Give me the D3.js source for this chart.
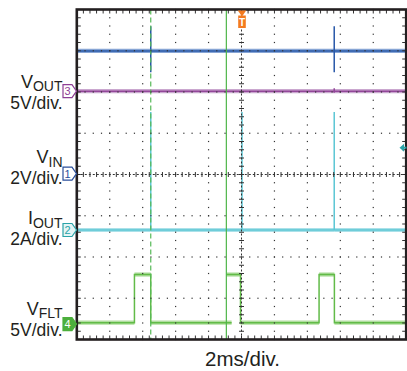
<!DOCTYPE html>
<html>
<head>
<meta charset="utf-8">
<script src="https://cdn.jsdelivr.net/npm/d3@7/dist/d3.min.js"></script>
<style>
  html, body { margin: 0; padding: 0; background: #fff; }
  svg { display: block; }
  text { font-family: "Liberation Sans", Arial, sans-serif; fill: #231f20; }
</style>
</head>
<body>
<svg id="scope" width="407" height="371"></svg>
<script>
// Scope setup: 2 ms/div, 10 horizontal div, 8 vertical div
var timeDomain = [0, 20];
var divDomain = [-4, 4];
var timeLabel = "2ms/div.";

// Channels, in label order (top to bottom)
var chIds = ["3", "1", "2", "4"];
var chMain = ["V", "V", "I", "V"];
var chSub = ["OUT", "IN", "OUT", "FLT"];
var chScale = ["5V/div.", "2V/div.", "2A/div.", "5V/div."];
var chPerDiv = [5, 2, 2, 5];
var chOffsetDiv = [2.02, 0.02, -1.345, -3.625];
var chColor = ["#8e3f96", "#2a4f9c", "#2aa3a8", "#4caf3c"];

// Traces: [time ms, value] points, null = gap
var voutTrace = [[0, 0], [15.63, 0], [15.63, 0.35], [15.63, -0.2], [15.63, 0], [20, 0]];
var vinTrace = [[0, 5.95], [4.49, 5.95], [4.49, 7.15], [4.49, 4.92], [4.49, 5.95],
  [15.63, 5.95], [15.63, 7.15], [15.63, 4.92], [15.63, 5.95], [20, 5.95]];
var ioutTrace = [[0, 0], [4.49, 0], [4.49, 5.72], [4.49, 0], [10.03, 0], [10.03, 5.72], [10.03, 0],
  [15.63, 0], [15.63, 5.72], [15.63, 0], [20, 0]];
var vfltTrace = [[0, 0.17], [3.5, 0.17], [3.5, 6.0], [4.49, 6.0], [4.49, 0.17], [9.4, 0.17], null,
  [9.08, 6.0], [9.94, 6.0], [9.94, 0.17], [14.71, 0.17], [14.71, 6.0], [15.64, 6.0], [15.64, 0.17], [20, 0.17]];

// Cursors and trigger
var cursorTimes = [4.49, 9.08];
var triggerTime = 10.03;
var trigLevelDiv = 0.65;

var svg = d3.select("#scope");

var x = d3.scaleLinear().domain(timeDomain).range([76.8, 406.2]);
var y = d3.scaleLinear().domain(divDomain).range([339.5, 9.5]);

function chY(i, v) { return y(chOffsetDiv[i] + v / chPerDiv[i]); }

// ---- traces ----
var traces = [
  { data: vinTrace, ch: 1, core: "#2858a8", halo: "#5f88c8" },
  { data: voutTrace, ch: 0, core: "#93479a", halo: "#b98abf" },
  { data: ioutTrace, ch: 2, core: "#5cc6d4", halo: "#8fd8e2" },
  { data: vfltTrace, ch: 3, core: "#62bb48", halo: "#97d480" }
];

var traceG = svg.append("g").attr("class", "traces");

traces.forEach(function(tr) {
  // fuzzy band on flat runs
  var flats = [];
  for (var k = 0; k < tr.data.length - 1; k++) {
    var a = tr.data[k], b = tr.data[k + 1];
    if (a && b && a[1] === b[1] && a[0] !== b[0]) flats.push([a, b]);
  }
  traceG.append("g").selectAll("line")
    .data(flats)
    .enter().append("line")
      .attr("x1", function(d) { return x(d[0][0]); })
      .attr("x2", function(d) { return x(d[1][0]); })
      .attr("y1", function(d) { return chY(tr.ch, d[0][1]); })
      .attr("y2", function(d) { return chY(tr.ch, d[1][1]); })
      .attr("stroke", tr.halo)
      .attr("stroke-width", 4.2)
      .attr("opacity", 0.75);

  var line = d3.line()
      .defined(function(d) { return d !== null; })
      .x(function(d) { return x(d[0]); })
      .y(function(d) { return chY(tr.ch, d[1]); });

  traceG.append("path")
      .datum(tr.data)
      .attr("d", line)
      .attr("fill", "none")
      .attr("stroke", tr.core)
      .attr("stroke-width", 1.5);
});

// ---- cursors ----
svg.append("g").selectAll("line")
  .data(cursorTimes)
  .enter().append("line")
    .attr("x1", function(d) { return x(d); })
    .attr("x2", function(d) { return x(d); })
    .attr("y1", y(4))
    .attr("y2", y(-4))
    .attr("stroke", function(d, i) { return i === 0 ? "#56b957" : "#4eb548"; })
    .attr("stroke-width", 1.2)
    .attr("stroke-dasharray", function(d, i) { return i === 0 ? "5,3" : null; });

// ---- graticule ----
var grid = svg.append("g").attr("class", "graticule");
var gridColor = "#333";

// dotted vertical grid lines
var vDots = [];
d3.range(2, 20, 2).forEach(function(t) {
  if (t === 10) return;
  d3.range(-4, 4.001, 0.2).forEach(function(dv) { vDots.push([x(t), y(dv)]); });
});
// dotted horizontal grid lines
d3.range(-3, 4, 1).forEach(function(dv) {
  if (dv === 0) return;
  d3.range(0, 20.001, 0.5).forEach(function(t) { vDots.push([x(t), y(dv)]); });
});
grid.selectAll("rect.dot")
  .data(vDots)
  .enter().append("rect")
    .attr("class", "dot")
    .attr("x", function(d) { return d[0] - 0.6; })
    .attr("y", function(d) { return d[1] - 0.6; })
    .attr("width", 1.2)
    .attr("height", 1.2)
    .attr("fill", gridColor);

// center cross lines
grid.append("line")
    .attr("x1", x(0)).attr("x2", x(20))
    .attr("y1", y(0)).attr("y2", y(0))
    .attr("stroke", gridColor).attr("stroke-width", 1)
    .attr("stroke-dasharray", "2,2");
grid.append("line")
    .attr("x1", x(10)).attr("x2", x(10))
    .attr("y1", y(4)).attr("y2", y(-4))
    .attr("stroke", gridColor).attr("stroke-width", 1)
    .attr("stroke-dasharray", "2,2");

var hTicks = d3.range(0, 20.001, 0.4);
var vTicks = d3.range(-4, 4.001, 0.2);

grid.append("g").selectAll("line")
  .data(hTicks)
  .enter().append("line")
    .attr("x1", function(d) { return x(d); })
    .attr("x2", function(d) { return x(d); })
    .attr("y1", y(0) - 2.5).attr("y2", y(0) + 2.5)
    .attr("stroke", gridColor).attr("stroke-width", 1);
grid.append("g").selectAll("line")
  .data(vTicks)
  .enter().append("line")
    .attr("y1", function(d) { return y(d); })
    .attr("y2", function(d) { return y(d); })
    .attr("x1", x(10) - 2.5).attr("x2", x(10) + 2.5)
    .attr("stroke", gridColor).attr("stroke-width", 1);

// edge minor ticks
[[y(4), 1], [y(-4), -1]].forEach(function(e) {
  grid.append("g").selectAll("line")
    .data(hTicks)
    .enter().append("line")
      .attr("x1", function(d) { return x(d); })
      .attr("x2", function(d) { return x(d); })
      .attr("y1", e[0]).attr("y2", e[0] + e[1] * 4)
      .attr("stroke", gridColor).attr("stroke-width", 1);
});
[[x(0), 1], [x(20), -1]].forEach(function(e) {
  grid.append("g").selectAll("line")
    .data(vTicks)
    .enter().append("line")
      .attr("y1", function(d) { return y(d); })
      .attr("y2", function(d) { return y(d); })
      .attr("x1", e[0]).attr("x2", e[0] + e[1] * 4)
      .attr("stroke", gridColor).attr("stroke-width", 1);
});

// frame
svg.append("rect")
    .attr("x", x(0)).attr("y", y(4))
    .attr("width", x(20) - x(0)).attr("height", y(-4) - y(4))
    .attr("fill", "none")
    .attr("stroke", "#231f20")
    .attr("stroke-width", 2.6);

// ---- trigger marker ----
var tx = x(triggerTime);
svg.append("path")
    .attr("d", "M" + (tx - 4.2) + ",10.5 L" + (tx + 4.2) + ",10.5 L" + tx + ",16.5 Z")
    .attr("fill", "#f47b20");
svg.append("rect")
    .attr("x", tx - 3.8).attr("y", 15.5)
    .attr("width", 7.6).attr("height", 12.5)
    .attr("fill", "#f47b20");
svg.append("text")
    .attr("x", tx).attr("y", 25.8)
    .attr("text-anchor", "middle")
    .attr("font-size", 10)
    .attr("font-weight", "bold")
    .style("fill", "#fff")
    .text("T");

// trigger level arrow on right edge
var ty = y(trigLevelDiv);
svg.append("path")
    .attr("d", "M399.5," + ty + " L404," + (ty - 4) + " L404," + (ty + 4) + " Z")
    .attr("fill", "#2aa3a8");
svg.append("rect")
    .attr("x", 403.5).attr("y", ty - 1)
    .attr("width", 3).attr("height", 2)
    .attr("fill", "#2aa3a8");

// ---- channel markers and labels ----
var labelBase = [87.5, 162.5, 223.5, 314.5];
var subDy = [3.5, 4, 4, 3];

chIds.forEach(function(id, i) {
  var cy = y(chOffsetDiv[i]);
  var filled = id === "4";
  var fillCol = filled ? "#4caf3c" : (id === "2" ? "#e4f5f5" : "#fff");
  svg.append("path")
      .attr("d", "M63," + (cy - 6.5) + " H72 L76.5," + cy + " L72," + (cy + 6.5) + " H63 Z")
      .attr("fill", fillCol)
      .attr("stroke", chColor[i])
      .attr("stroke-width", 1.2);
  svg.append("text")
      .attr("x", 67.6).attr("y", cy + 4)
      .attr("text-anchor", "middle")
      .attr("font-size", 11)
      .style("fill", filled ? "#fff" : chColor[i])
      .text(id);

  var t = svg.append("text")
      .attr("x", 62.5).attr("y", labelBase[i])
      .attr("text-anchor", "end");
  t.append("tspan").attr("font-size", 18).text(chMain[i]);
  t.append("tspan").attr("font-size", 14).attr("dy", subDy[i]).text(chSub[i]);

  svg.append("text")
      .attr("x", 62.5).attr("y", labelBase[i] + 21.5)
      .attr("text-anchor", "end")
      .attr("font-size", 17.5)
      .text(chScale[i]);
});

// time base label
svg.append("text")
    .attr("x", 242.5).attr("y", 366)
    .attr("text-anchor", "middle")
    .attr("font-size", 20.5)
    .text(timeLabel);
</script>
</body>
</html>
